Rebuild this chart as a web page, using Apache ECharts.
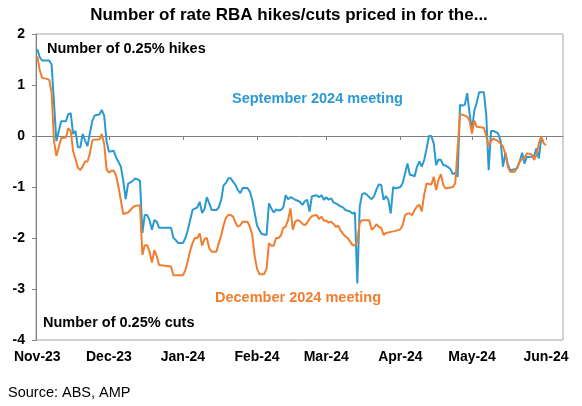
<!DOCTYPE html>
<html><head><meta charset="utf-8">
<script src="https://cdn.jsdelivr.net/npm/echarts@6/dist/echarts.min.js"></script>
<style>html,body{margin:0;padding:0;background:#fff}#c{width:582px;height:406px}</style>
</head><body><div id="c"></div>
<script>
// ---- data ----
const monthTickDates = ['2023-11-01','2023-12-01','2024-01-01','2024-02-01','2024-03-01','2024-04-01','2024-05-01','2024-06-01'];
const monthTickLabels = ['Nov-23','Dec-23','Jan-24','Feb-24','Mar-24','Apr-24','May-24','Jun-24'];

const sepDates = ['2023-11-01','2023-11-02','2023-11-03','2023-11-06','2023-11-07','2023-11-09','2023-11-10','2023-11-11','2023-11-13','2023-11-14','2023-11-15','2023-11-16','2023-11-17','2023-11-18','2023-11-19','2023-11-20','2023-11-21','2023-11-22','2023-11-23','2023-11-24','2023-11-25','2023-11-27','2023-11-28','2023-11-29','2023-11-30',
'2023-12-01','2023-12-03','2023-12-04','2023-12-05','2023-12-06','2023-12-07','2023-12-08','2023-12-09','2023-12-11','2023-12-12','2023-12-13','2023-12-14','2023-12-15','2023-12-16','2023-12-17','2023-12-18','2023-12-19','2023-12-20','2023-12-21','2023-12-22','2023-12-27','2023-12-28','2023-12-29','2023-12-30',
'2024-01-01','2024-01-02','2024-01-03','2024-01-04','2024-01-05','2024-01-07','2024-01-08','2024-01-09','2024-01-10','2024-01-11','2024-01-12','2024-01-13','2024-01-15','2024-01-16','2024-01-17','2024-01-18','2024-01-19','2024-01-20','2024-01-21','2024-01-22','2024-01-23','2024-01-24','2024-01-25','2024-01-26','2024-01-28','2024-01-29','2024-01-30','2024-01-31',
'2024-02-01','2024-02-02','2024-02-03','2024-02-05','2024-02-06','2024-02-07','2024-02-08','2024-02-09','2024-02-10','2024-02-11','2024-02-12','2024-02-13','2024-02-14','2024-02-15','2024-02-16','2024-02-17','2024-02-19','2024-02-20','2024-02-21','2024-02-22','2024-02-23','2024-02-24','2024-02-26','2024-02-27','2024-02-28','2024-02-29',
'2024-03-01','2024-03-02','2024-03-03','2024-03-04','2024-03-05','2024-03-06','2024-03-07','2024-03-08','2024-03-09','2024-03-11','2024-03-12','2024-03-13','2024-03-14','2024-03-15','2024-03-16','2024-03-17','2024-03-18','2024-03-19','2024-03-20','2024-03-21','2024-03-22','2024-03-23','2024-03-24','2024-03-25','2024-03-26','2024-03-27','2024-03-28','2024-03-29','2024-03-30',
'2024-04-01','2024-04-02','2024-04-03','2024-04-04','2024-04-05','2024-04-06','2024-04-07','2024-04-08','2024-04-09','2024-04-10','2024-04-11','2024-04-12','2024-04-13','2024-04-14','2024-04-15','2024-04-16','2024-04-17','2024-04-18','2024-04-19','2024-04-20','2024-04-21','2024-04-22','2024-04-23','2024-04-24','2024-04-25','2024-04-26','2024-04-27','2024-04-28','2024-04-29','2024-04-30',
'2024-05-01','2024-05-02','2024-05-03','2024-05-04','2024-05-06','2024-05-07','2024-05-08','2024-05-09','2024-05-10','2024-05-12','2024-05-13','2024-05-14','2024-05-15','2024-05-16','2024-05-17','2024-05-19','2024-05-20','2024-05-21','2024-05-22','2024-05-23','2024-05-24','2024-05-27','2024-05-28','2024-05-29','2024-05-30','2024-05-31'];
const sepValues = [1.70,1.55,1.48,1.48,1.40,-0.10,0.10,0.29,0.29,0.43,0.45,0.04,0.10,-0.22,-0.22,0.04,-0.09,-0.20,0.05,0.29,0.40,0.42,0.51,0.40,-0.10,
-0.31,-0.29,-0.42,-0.51,-0.60,-0.88,-1.24,-0.94,-0.88,-0.83,-0.85,-0.88,-1.90,-1.55,-1.55,-1.65,-1.84,-1.65,-1.68,-1.80,-1.80,-2.00,-2.04,-2.10,
-2.10,-2.00,-1.85,-1.65,-1.45,-1.40,-1.29,-1.51,-1.43,-1.20,-1.32,-1.45,-1.45,-1.40,-1.25,-0.97,-0.92,-0.83,-0.83,-0.90,-0.96,-1.06,-1.12,-1.02,-1.02,-1.09,-1.25,-1.50,
-1.75,-1.85,-1.92,-1.94,-1.32,-1.42,-1.50,-1.44,-1.46,-1.45,-1.40,-1.16,-1.24,-1.20,-1.22,-1.25,-1.29,-1.35,-1.28,-1.25,-1.48,-1.18,-1.16,-1.20,-1.16,-1.25,
-1.20,-1.25,-1.22,-1.30,-1.32,-1.35,-1.38,-1.40,-1.45,-1.48,-1.52,-1.50,-2.89,-1.39,-1.14,-1.12,-1.15,-1.20,-1.24,-1.18,-1.05,-0.95,-0.96,-1.25,-1.18,-1.25,-1.52,-1.00,-1.03,
-1.00,-0.92,-0.73,-0.54,-0.76,-0.77,-0.79,-0.60,-0.50,-0.60,-0.47,-0.25,0.00,0.00,-0.15,-0.57,-0.46,-0.47,-0.57,-0.58,-0.61,-0.65,-0.75,-0.72,-0.80,0.61,0.60,0.61,0.84,0.45,
0.12,0.50,0.65,0.86,0.86,0.40,-0.67,0.10,0.10,0.05,-0.10,-0.60,-0.33,-0.55,-0.67,-0.65,-0.63,-0.50,-0.33,-0.54,-0.41,-0.40,-0.24,-0.44,-0.05,-0.11];

const decDates = ['2023-11-01','2023-11-02','2023-11-03','2023-11-05','2023-11-06','2023-11-07','2023-11-08','2023-11-09','2023-11-10','2023-11-11','2023-11-13','2023-11-14','2023-11-15','2023-11-16','2023-11-17','2023-11-18','2023-11-19','2023-11-20','2023-11-21','2023-11-22','2023-11-23','2023-11-24','2023-11-25','2023-11-27','2023-11-28','2023-11-29','2023-11-30',
'2023-12-01','2023-12-02','2023-12-03','2023-12-04','2023-12-05','2023-12-06','2023-12-07','2023-12-09','2023-12-10','2023-12-11','2023-12-12','2023-12-14','2023-12-15','2023-12-16','2023-12-17','2023-12-18','2023-12-19','2023-12-20','2023-12-21','2023-12-22','2023-12-27','2023-12-28',
'2024-01-01','2024-01-02','2024-01-03','2024-01-04','2024-01-05','2024-01-06','2024-01-07','2024-01-08','2024-01-09','2024-01-10','2024-01-11','2024-01-12','2024-01-13','2024-01-15','2024-01-16','2024-01-17','2024-01-18','2024-01-19','2024-01-20','2024-01-21','2024-01-22','2024-01-23','2024-01-24','2024-01-25','2024-01-26','2024-01-28','2024-01-29','2024-01-30','2024-01-31',
'2024-02-01','2024-02-02','2024-02-04','2024-02-05','2024-02-06','2024-02-07','2024-02-08','2024-02-09','2024-02-10','2024-02-11','2024-02-12','2024-02-13','2024-02-14','2024-02-15','2024-02-16','2024-02-17','2024-02-18','2024-02-19','2024-02-20','2024-02-21','2024-02-22','2024-02-23','2024-02-24','2024-02-26','2024-02-27','2024-02-28','2024-02-29',
'2024-03-01','2024-03-02','2024-03-03','2024-03-04','2024-03-05','2024-03-06','2024-03-07','2024-03-08','2024-03-09','2024-03-10','2024-03-11','2024-03-12','2024-03-13','2024-03-14','2024-03-15','2024-03-16','2024-03-19','2024-03-20','2024-03-21','2024-03-22','2024-03-23','2024-03-24','2024-03-25','2024-03-26','2024-03-28','2024-03-30',
'2024-04-01','2024-04-02','2024-04-03','2024-04-04','2024-04-05','2024-04-06','2024-04-07','2024-04-08','2024-04-09','2024-04-10','2024-04-11','2024-04-12','2024-04-14','2024-04-15','2024-04-16','2024-04-17','2024-04-18','2024-04-19','2024-04-20','2024-04-23','2024-04-24','2024-04-25','2024-04-26','2024-04-27','2024-04-29','2024-04-30',
'2024-05-01','2024-05-02','2024-05-03','2024-05-06','2024-05-07','2024-05-08','2024-05-09','2024-05-10','2024-05-12','2024-05-13','2024-05-14','2024-05-15','2024-05-16','2024-05-17','2024-05-19','2024-05-20','2024-05-21','2024-05-22','2024-05-23','2024-05-24','2024-05-26','2024-05-27','2024-05-28','2024-05-29','2024-05-30','2024-05-31','2024-06-01'];
const decValues = [1.56,1.30,1.14,1.12,1.10,0.85,-0.10,-0.39,-0.22,-0.04,-0.03,0.15,0.10,-0.30,-0.45,-0.62,-0.67,-0.60,-0.50,-0.50,-0.35,-0.09,-0.07,-0.07,0.04,-0.15,-0.65,
-0.72,-0.68,-0.68,-0.78,-1.00,-1.27,-1.53,-1.50,-1.45,-1.40,-1.37,-1.36,-2.33,-2.14,-2.14,-2.27,-2.48,-2.24,-2.35,-2.53,-2.56,-2.73,
-2.73,-2.63,-2.45,-2.25,-2.10,-2.00,-2.00,-1.91,-2.15,-2.02,-2.00,-2.20,-2.27,-2.27,-2.10,-1.95,-1.75,-1.60,-1.55,-1.55,-1.58,-1.70,-1.78,-1.75,-1.68,-1.68,-1.78,-1.94,-2.35,
-2.60,-2.71,-2.71,-2.60,-2.10,-2.15,-2.15,-2.00,-2.00,-1.95,-1.80,-1.78,-1.65,-1.42,-1.84,-1.68,-1.65,-1.67,-1.72,-1.75,-1.70,-1.62,-1.57,-1.55,-1.63,-1.58,-1.66,
-1.66,-1.70,-1.68,-1.72,-1.78,-1.76,-1.85,-1.92,-1.97,-2.00,-2.07,-2.14,-2.14,-2.07,-1.70,-1.65,-1.65,-1.84,-1.80,-1.73,-1.78,-1.80,-1.94,-1.90,-1.88,-1.86,
-1.83,-1.75,-1.55,-1.52,-1.52,-1.55,-1.45,-1.38,-1.35,-1.48,-1.15,-0.93,-0.95,-0.80,-1.06,-0.86,-0.75,-0.96,-1.03,-1.00,-0.93,-0.24,0.41,0.42,0.38,0.30,
0.05,0.30,0.18,0.16,0.00,-0.20,-0.10,-0.05,-0.10,-0.15,-0.21,-0.35,-0.60,-0.70,-0.70,-0.60,-0.50,-0.45,-0.43,-0.34,-0.36,-0.47,-0.38,-0.14,-0.01,-0.14,-0.18];

const titleText = 'Number of rate RBA hikes/cuts priced in for the...';
const sepLabel = 'September 2024 meeting';
const decLabel = 'December 2024 meeting';
const hikesLabel = 'Number of 0.25% hikes';
const cutsLabel = 'Number of 0.25% cuts';
const sourceText = 'Source: ABS, AMP';

// ---- chart ----
const ts = d => new Date(d + 'T00:00:00').getTime();
const monthTicks = monthTickDates.map(ts);
const xMin = ts('2023-10-31') + 11 * 3600e3;
const xMax = ts('2024-06-08') + 3 * 3600e3;
const FONT = '"Liberation Sans", Arial, sans-serif';
const BLUE = '#2B9AD0';
const ORANGE = '#F07E2E';
const pair = (ds, vs) => ds.map((d, i) => [ts(d), vs[i]]);

const chart = echarts.init(document.getElementById('c'), null, {renderer: 'canvas'});
chart.setOption({
  animation: false,
  backgroundColor: '#fff',
  grid: {left: 36, top: 34, right: 19, bottom: 66, show: true, borderColor: '#a6a6a6', borderWidth: 1, backgroundColor: 'transparent'},
  xAxis: [{
    type: 'value', min: xMin, max: xMax, position: 'bottom', scale: true,
    axisLine: {show: false, onZero: false}, axisTick: {show: false}, splitLine: {show: false},
    axisLabel: {
      customValues: monthTicks, fontFamily: FONT, fontWeight: 'bold', fontSize: 14, color: '#000', margin: 10,
      formatter: v => { const i = monthTicks.indexOf(v); return i >= 0 ? monthTickLabels[i] : ''; }
    }
  }, {
    type: 'value', min: xMin, max: xMax, position: 'bottom', scale: true,
    axisLine: {show: true, onZero: true, lineStyle: {color: '#808080', width: 1}},
    axisTick: {show: true, customValues: monthTicks.slice(1), length: 4, lineStyle: {color: '#808080'}},
    axisLabel: {show: false}, splitLine: {show: false}
  }],
  yAxis: {
    type: 'value', min: -4, max: 2, interval: 1,
    axisLine: {show: true, lineStyle: {color: '#808080'}},
    axisTick: {show: true, length: 4, lineStyle: {color: '#808080'}},
    axisLabel: {fontFamily: FONT, fontWeight: 'bold', fontSize: 14, color: '#000', margin: 11},
    splitLine: {show: false}
  },
  series: [
    {name: sepLabel, type: 'line', xAxisIndex: 0, data: pair(sepDates, sepValues), showSymbol: false, symbol: 'none',
     lineStyle: {color: BLUE, width: 2}, itemStyle: {color: BLUE}, emphasis: {disabled: true}},
    {name: decLabel, type: 'line', xAxisIndex: 0, data: pair(decDates, decValues), showSymbol: false, symbol: 'none',
     lineStyle: {color: ORANGE, width: 2}, itemStyle: {color: ORANGE}, emphasis: {disabled: true}}
  ],
  graphic: [
    {type: 'text', style: {x: 289, y: 15, text: titleText, align: 'center', verticalAlign: 'middle', font: 'bold 17px ' + FONT, fill: '#000'}},
    {type: 'text', style: {x: 47, y: 49, text: hikesLabel, align: 'left', verticalAlign: 'middle', font: 'bold 14.5px ' + FONT, fill: '#000'}},
    {type: 'text', style: {x: 232, y: 99, text: sepLabel, align: 'left', verticalAlign: 'middle', font: 'bold 14.5px ' + FONT, fill: BLUE}},
    {type: 'text', style: {x: 215, y: 298, text: decLabel, align: 'left', verticalAlign: 'middle', font: 'bold 14.5px ' + FONT, fill: ORANGE}},
    {type: 'text', style: {x: 43, y: 323, text: cutsLabel, align: 'left', verticalAlign: 'middle', font: 'bold 14.5px ' + FONT, fill: '#000'}},
    {type: 'text', style: {x: 8, y: 393, text: sourceText, align: 'left', verticalAlign: 'middle', font: '14.5px ' + FONT, fill: '#000'}}
  ]
});
</script>
</body></html>
